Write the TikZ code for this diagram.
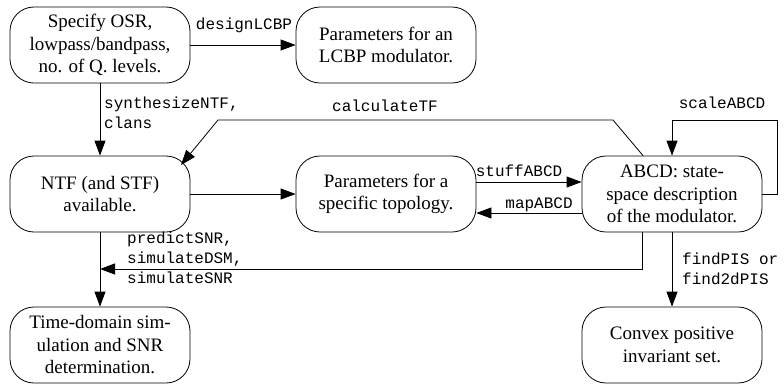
\documentclass[tikz,border=0pt]{standalone}
\usepackage{fontspec}
\setmainfont{Liberation Serif}
\setmonofont{Liberation Mono}
\usetikzlibrary{arrows.meta}
\begin{document}
\begin{tikzpicture}[x=1pt,y=-1pt,
  box/.style={draw,line width=0.8pt,rounded corners=24pt,minimum width=180pt,minimum height=76pt,
    align=center,inner sep=0pt,font=\fontsize{19}{22.5}\selectfont},
  arr/.style={line width=0.8pt,-{Triangle[length=15pt,width=11pt]}},
  ln/.style={line width=0.8pt},
  lbl/.style={font=\fontsize{16}{20}\ttfamily\selectfont,inner sep=0pt,align=left}]
\useasboundingbox (0,0) rectangle (784,384);
\node[box] (spec) at (100,45) {Specify OSR,\\lowpass/bandpass,\\no. of Q. levels.};
\node[box] (lcbp) at (386,45) {Parameters for an\\LCBP modulator.};
\node[box] (ntf) at (100,194) {NTF (and STF)\\available.};
\node[box] (topo) at (386,194) {Parameters for a\\specific topology.};
\node[box] (abcd) at (672,194) {ABCD: state-\\space description\\of the modulator.};
\node[box] (time) at (100,345) {Time-domain sim-\\ulation and SNR\\determination.};
\node[box] (conv) at (672,345) {Convex positive\\invariant set.};

\coordinate (ntfc) at (181,165);
\coordinate (join) at (100,269);

\draw[arr] (spec) -- (lcbp);
\node[lbl] (l1) at (244,25) {designLCBP};
\draw[arr] (spec) -- (ntf);
\node[lbl,anchor=west] (l2) at (104,113) {synthesizeNTF,\\clans};
\draw[arr] ([xshift=-29pt]abcd.north) -- (613,120) -- (218,120) -- (ntfc);
\node[lbl] (l3) at (385,106) {calculateTF};
\draw[arr] (abcd.east) -- ++(15,0) |- (672,120) -- (abcd.north);
\node[lbl] (l4) at (722,103) {scaleABCD};
\draw[arr] (ntf) -- (topo);
\draw[arr] (topo.east |- 0,182) -- (abcd.west |- 0,182);
\node[lbl] (l5) at (519,171) {stuffABCD};
\draw[arr] (abcd.west |- 0,213) -- (topo.east |- 0,213);
\node[lbl] (l6) at (539,205) {mapABCD};
\draw[arr] ([xshift=-30pt]abcd.south) |- (join);
\draw[arr] (ntf) -- (time);
\node[lbl,anchor=west] (l7) at (127,258) {predictSNR,\\simulateDSM,\\simulateSNR};
\draw[arr] (abcd) -- (conv);
\node[lbl,anchor=west] (l8) at (682,269) {findPIS or\\find2dPIS};
\end{tikzpicture}
\end{document}
